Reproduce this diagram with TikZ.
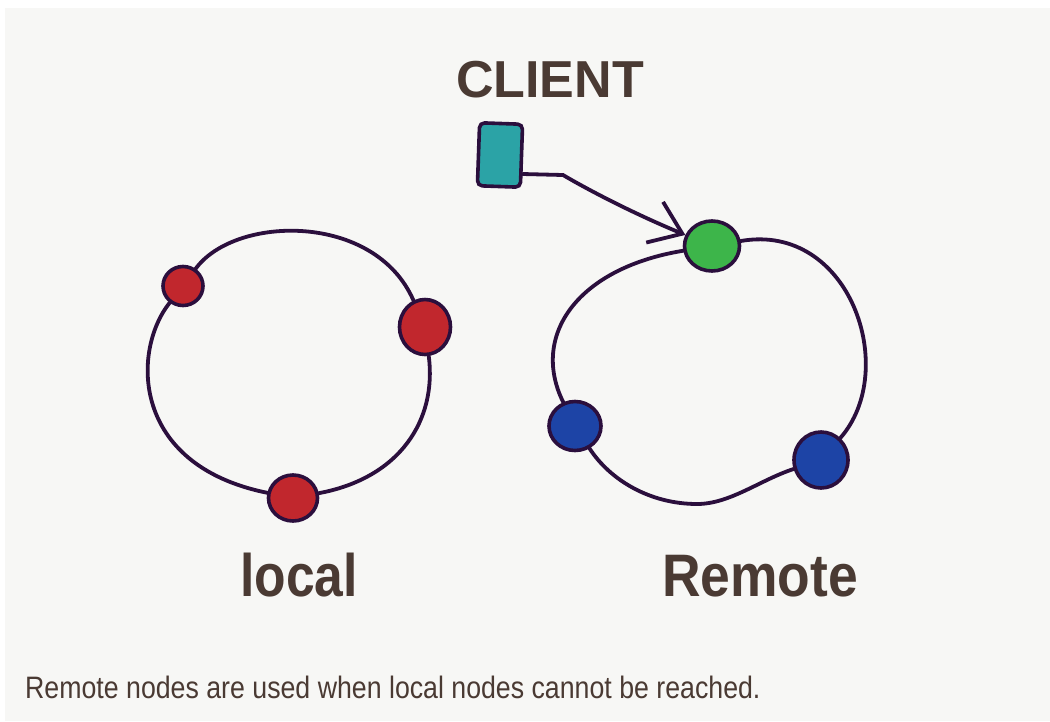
\documentclass[tikz,border=0pt]{standalone}
\usepackage{fontspec}
\setmainfont{Liberation Sans}
\usetikzlibrary{arrows.meta,shapes.geometric,calc}
\definecolor{bg}{HTML}{F7F7F5}
\definecolor{ink}{HTML}{2B0F3D}
\definecolor{txt}{HTML}{4A3A33}
\definecolor{redc}{HTML}{C1272D}
\definecolor{greenc}{HTML}{3DB54A}
\definecolor{bluec}{HTML}{1D44A6}
\definecolor{tealc}{HTML}{2BA3A6}
\tikzset{
  blob/.style={ellipse, draw=ink, line width=3.6pt, inner sep=0pt},
  ring/.style={draw=ink, line width=3.8pt, line cap=round},
  bigtxt/.style={text=txt, inner sep=0pt, font=\fontsize{60}{60}\selectfont\bfseries},
  smalltxt/.style={text=txt, inner sep=0pt, font=\fontsize{31}{31}\selectfont}
}
\begin{document}
\begin{tikzpicture}[x=1pt,y=-1pt]
\useasboundingbox (0,0) rectangle (1050,721);
\fill[white] (0,0) rectangle (1050,721);
\fill[bg] (5,8) rectangle (1050,721);

% local ring nodes
\node[blob, fill=redc, minimum width=40, minimum height=39] (L1) at (183,286) {};
\node[blob, fill=redc, minimum width=51, minimum height=55] (L2) at (425,327) {};
\node[blob, fill=redc, minimum width=49, minimum height=46] (L3) at (293,498) {};

% remote ring nodes
\node[blob, fill=greenc, minimum width=55, minimum height=50] (G) at (712,246) {};
\node[blob, fill=bluec, minimum width=52, minimum height=49] (B1) at (575,426) {};
\node[blob, fill=bluec, minimum width=54, minimum height=56] (B2) at (821,460) {};
\coordinate (bot) at (697,504);

% client
\node[draw=ink, line width=3.6pt, fill=tealc, rounded corners=5pt, minimum width=43, minimum height=63, inner sep=0pt, rotate=-2] (C) at (500,155) {};

% local ring
\draw[ring] (L1) .. controls (235,215) and (375,212) .. (L2);
\draw[ring] (L2) .. controls (437,420) and (400,478) .. (L3);
\draw[ring] (L3) .. controls (130,465) and (132,350) .. (L1);

% remote ring
\draw[ring] (G) .. controls (850,222) and (900,370) .. (B2);
\draw[ring] (B2) .. controls (760,480) and (730,504) .. (bot) .. controls (650,504) and (610,480) .. (B1);
\draw[ring] (B1) .. controls (530,335) and (578,268) .. (G);

% client arrow
\draw[ring, -{Straight Barb[length=30pt,width=44pt]}] (C.-38) -- (563,175) .. controls (585,188) and (630,212) .. (G);

% labels
\node[bigtxt, anchor=base, font=\fontsize{52}{52}\selectfont\bfseries] (client) at (550,97) {CLIENT};
\node[bigtxt, anchor=base] (local) at (299,596) {\scalebox{0.86}[1]{local}};
\node[bigtxt, anchor=base] (remote) at (760,596) {\scalebox{0.89}[1]{Remote}};
\node[smalltxt, anchor=base west] (caption) at (25,698) {\scalebox{0.862}[1]{Remote nodes are used when local nodes cannot be reached.}};
\end{tikzpicture}
\end{document}
